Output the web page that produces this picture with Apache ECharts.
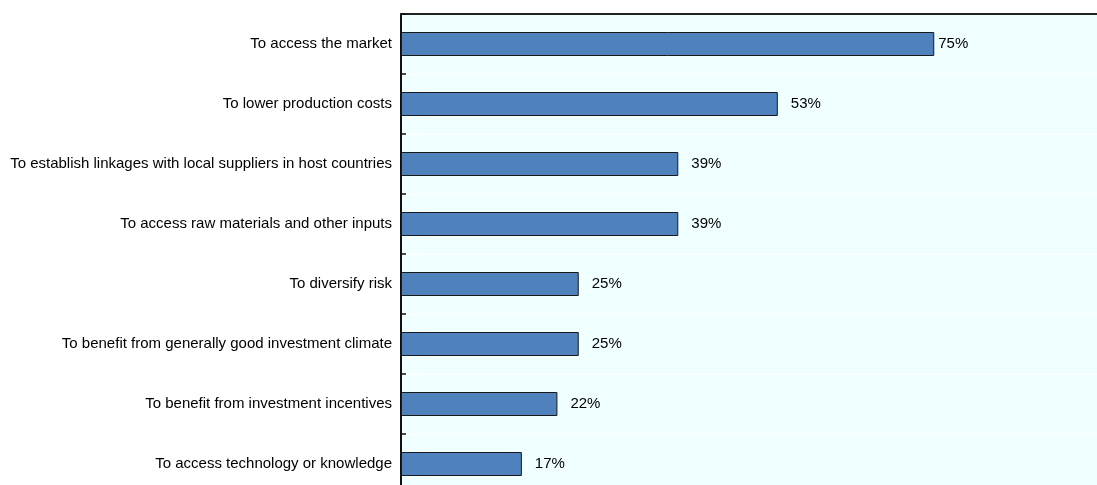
<!DOCTYPE html>
<html>
<head>
<meta charset="utf-8">
<script src="https://cdn.jsdelivr.net/npm/echarts@6/dist/echarts.min.js"></script>
<style>
  html, body { margin: 0; padding: 0; background: #ffffff; overflow: hidden; width: 1097px; height: 485px; }
  /* plot area runs past the lower and right edges of the page */
  #chart { width: 1112px; height: 494px; }
</style>
</head>
<body>
<div id="chart"></div>
<script>
// Motives for investing abroad, share of respondents (%)
const categories = [
  'To access the market',
  'To lower production costs',
  'To establish linkages with local suppliers in host countries',
  'To access raw materials and other inputs',
  'To diversify risk',
  'To benefit from generally good investment climate',
  'To benefit from investment incentives',
  'To access technology or knowledge'
];
const shares = [75, 53, 39, 39, 25, 25, 22, 17];

const chart = echarts.init(document.getElementById('chart'), null, { renderer: 'canvas' });

chart.setOption({
  animation: false,
  textStyle: { fontFamily: 'Liberation Sans, Arial, sans-serif' },
  grid: {
    left: 401, top: 14, right: 0, bottom: 0,
    show: true,
    backgroundColor: '#F0FFFF',
    borderWidth: 0
  },
  xAxis: {
    type: 'value',
    position: 'top',
    min: 0, max: 100,
    axisLine: { show: true, onZero: false, lineStyle: { color: '#222', width: 2 } },
    axisTick: { show: false },
    axisLabel: { show: false },
    splitLine: { show: false }
  },
  yAxis: {
    type: 'category',
    inverse: true,
    data: categories,
    axisLine: { show: true, lineStyle: { color: '#111', width: 2 } },
    axisTick: { show: true, inside: true, length: 5, alignWithLabel: false, lineStyle: { color: '#111', width: 1.5 } },
    axisLabel: { color: '#000', fontSize: 15, margin: 9 },
    splitLine: { show: true, lineStyle: { color: '#ffffff', width: 1 } }
  },
  series: [{
    type: 'bar',
    data: shares.map(v => ({
      value: v,
      label: { distance: v === 75 ? 4 : 13 }
    })),
    barCategoryGap: '60%',
    itemStyle: { color: '#4F81BD', borderColor: '#1a1a1a', borderWidth: 1 },
    label: {
      show: true,
      position: 'right',
      color: '#000',
      fontSize: 15,
      formatter: p => p.value + '%'
    }
  }]
});
</script>
</body>
</html>
